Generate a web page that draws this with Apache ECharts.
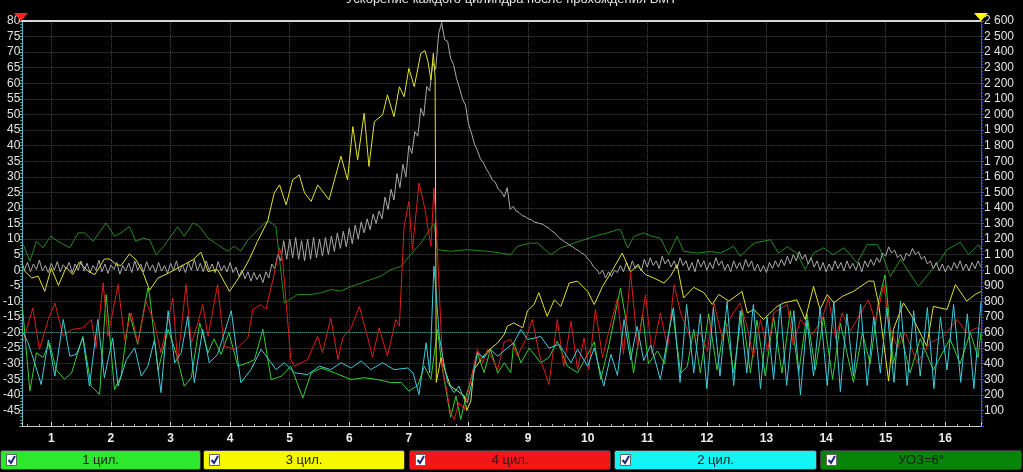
<!DOCTYPE html>
<html><head><meta charset="utf-8">
<script src="https://cdn.jsdelivr.net/npm/echarts@6/dist/echarts.min.js"></script>
<style>html,body{margin:0;padding:0;background:#000;}#c{width:1023px;height:472px;}</style>
</head><body><div id="c"></div>
<script>
const titleText = 'Ускорение каждого цилиндра после прохождения ВМТ';
const legendNames = ['1 цил.', '3 цил.', '4 цил.', '2 цил.', 'УОЗ=6°'];
const xTicks = [1,2,3,4,5,6,7,8,9,10,11,12,13,14,15,16];
const refLevel = -20;

// RPM (right axis), sampled every 0.05 from 0.5
const rpmStart = 0.5, rpmStep = 0.05;
const rpm = [
1060,1000,1050,990,1040,1005,1065,995,1030,985,1045,1000,1055,990,1035,1010,1050,985,1040,1000,
1060,995,1045,985,1030,1000,1065,990,1040,980,1035,1005,1050,975,1030,995,1045,985,1060,1000,
1040,990,1055,1000,1035,985,1050,995,1030,980,1045,1000,1060,990,1035,985,1050,1000,1070,995,
1045,990,1060,1000,1040,985,1055,995,1030,990,1050,985,1020,960,1000,945,990,930,985,940,
975,920,990,950,1040,1010,1100,1060,1190,1070,1200,1080,1210,1070,1190,1060,1200,1070,1210,1080,
1200,1090,1210,1100,1220,1120,1240,1140,1250,1150,1270,1170,1290,1200,1310,1240,1330,1260,1360,1300,
1380,1330,1470,1390,1520,1450,1620,1530,1680,1600,1800,1750,1890,1860,2040,1990,2180,2150,2330,2290,
2520,2590,2480,2470,2360,2320,2230,2170,2100,2060,1940,1880,1810,1770,1715,1690,1650,1620,1580,1565,
1520,1505,1470,1530,1390,1410,1380,1370,1350,1345,1330,1325,1310,1305,1300,1295,1280,1270,1250,1240,
1215,1200,1185,1175,1160,1150,1135,1125,1110,1100,1075,1055,1020,1005,975,1000,950,990,960,1000,
985,1030,990,1050,1000,1060,1010,1040,995,1070,1020,1080,1030,1060,1010,1090,1040,1070,1020,1060,
1010,1080,1030,1060,1000,1050,990,1070,1020,1060,1000,1050,1010,1080,1030,1060,1000,1040,990,1060,
1010,1050,1000,1070,1020,1060,995,1040,990,1030,985,1050,1010,1060,1020,1070,1030,1090,1040,1100,
1060,1120,1070,1100,1040,1080,1020,1060,1000,1050,990,1040,1000,1060,1010,1050,995,1060,1010,1045,
1000,1050,990,1060,1020,1070,1030,1080,1050,1110,1090,1150,1110,1130,1080,1100,1060,1110,1090,1140,
1100,1120,1070,1090,1040,1060,1010,1050,995,1040,990,1030,1000,1050,1010,1060,1000,1040,995,1050,1010,1060,1020
];

const uoz = [
[0.53,8.2],[0.64,2.9],[0.75,9.3],[0.86,7.2],[0.99,10.9],[1.11,9.3],[1.31,7.2],[1.45,12],[1.56,12],[1.7,9.3],
[1.92,15.2],[2.06,10.9],[2.17,12],[2.31,14],[2.42,9.3],[2.54,10.3],[2.65,9.8],[2.76,5],[2.89,7.7],[3.12,14],
[3.23,10.9],[3.38,15.2],[3.49,14],[3.63,10.3],[3.79,8.2],[3.96,6.1],[4.07,7.7],[4.18,6.1],[4.3,9.8],[4.58,15.2],
[4.66,15.7],[4.77,14],[4.91,-10.5],[5.13,-7.8],[5.36,-7.8],[5.53,-7.2],[5.69,-6.2],[5.86,-6.7],[6.03,-5.2],[6.2,-4.1],
[6.36,-3],[6.53,-1.9],[6.7,0.2],[6.87,1.3],[7.03,5],[7.2,8.7],[7.37,13.5],[7.42,15],[7.48,6.6],[7.7,6.1],
[7.98,6.6],[8.37,6],[8.71,5],[8.82,7.7],[9.04,8.7],[9.16,8.7],[9.38,5],[9.55,7.2],[9.77,8.7],[10.11,10.9],
[10.33,12],[10.5,13],[10.55,13],[10.67,7.2],[10.78,10.9],[10.94,12],[11.06,11],[11.22,10.3],[11.36,5],[11.5,10.9],
[11.61,6.1],[11.84,5.5],[12.06,6],[12.23,5.5],[12.45,7.7],[12.56,4.5],[12.79,8.7],[13.07,9.8],[13.2,5.5],[13.35,7.5],
[13.51,5.5],[13.65,0.2],[13.79,5.5],[13.96,7.2],[14.12,5],[14.3,7.2],[14.41,5],[14.52,2.3],[14.69,8.2],[14.86,8.2],
[14.91,6.6],[15.08,-2],[15.25,3.5],[15.55,-5.2],[15.92,3.5],[16.03,6.6],[16.25,9],[16.39,5],[16.56,8.2],[16.6,6.6]
];

const cyl1 = [
[0.52,-12.6],[0.64,-38.8],[0.75,-26.5],[0.86,-28],[0.97,-23.3],[1.08,-31.9],[1.22,-35],[1.34,-33],[1.53,-21.2],[1.67,-37.2],
[1.81,-39.9],[1.92,-7.8],[2.06,-38.3],[2.17,-34],[2.31,-13.7],[2.45,-23.8],[2.62,-5.7],[2.65,-8],[2.79,-32.2],[2.96,-19],
[3.1,-27],[3.23,-37.2],[3.35,-34.5],[3.49,-16.9],[3.63,-26.5],[3.73,-22],[3.85,-27],[3.98,-20],[4.13,-30.8],[4.3,-29.7],
[4.41,-28.7],[4.55,-19],[4.69,-35.1],[4.86,-34],[5.02,-30.8],[5.22,-41],[5.36,-33],[5.53,-31.4],[5.75,-32.9],[6.03,-35.1],
[6.25,-34.5],[6.48,-35.1],[6.7,-36.1],[6.87,-36],[7.0,-38.8],[7.15,-37],[7.26,-30.8],[7.37,-35],[7.48,-19],[7.55,-30],
[7.62,-38],[7.7,-47.2],[7.79,-40.4],[7.87,-47.9],[7.96,-40.4],[8.04,-35.1],[8.15,-26.5],[8.26,-32.9],[8.37,-25.4],[8.49,-33],
[8.6,-29.7],[8.71,-32.9],[8.76,-23.3],[8.88,-29.7],[9.02,-25],[9.21,-29.7],[9.35,-28],[9.49,-22.8],[9.66,-30.8],[9.83,-32.9],
[10.0,-27],[10.11,-23],[10.22,-35],[10.36,-23.8],[10.55,-5.7],[10.67,-19],[10.77,-33],[10.92,-14.2],[11.02,-30],[11.17,-25.9],
[11.29,-30],[11.42,-12.6],[11.56,-33],[11.67,-31],[11.78,-19],[11.89,-33],[12.03,-14],[12.17,-32],[12.31,-16],[12.45,-33],
[12.59,-12.6],[12.73,-33],[12.84,-16],[12.98,-34],[13.12,-15],[13.26,-33],[13.4,-13],[13.54,-33],[13.68,-14],[13.82,-32],
[13.96,-15],[14.11,-35],[14.24,-17],[14.46,-36],[14.61,-20],[14.74,-30],[14.88,-10],[14.99,-1.5],[15.13,-30],[15.25,-20],
[15.41,-33],[15.58,-22],[15.8,-32],[16.08,-22],[16.25,-30],[16.42,-20],[16.55,-28],[16.6,-20]
];

const cyl3 = [
[0.53,0.2],[0.67,-2.5],[0.78,-1.9],[0.89,-6.8],[1.0,0.7],[1.12,-4.9],[1.25,1.0],[1.36,-1.4],[1.47,2.6],[1.62,-0.4],
[1.73,-1.4],[1.89,3.6],[1.98,3.6],[2.09,1.8],[2.17,1.5],[2.31,5.2],[2.42,3.4],[2.54,-0.8],[2.65,-6.4],[2.79,-2.5],
[2.98,-0.8],[3.18,1.3],[3.38,3.4],[3.51,5.8],[3.63,-0.4],[3.79,0.2],[3.99,-6.8],[4.18,-1.4],[4.32,3.4],[4.46,9.3],
[4.63,15.7],[4.74,24.8],[4.83,27.4],[4.94,21],[5.05,29],[5.16,30.6],[5.25,24.8],[5.36,22.1],[5.47,27.4],[5.66,22.6],
[5.86,36.6],[5.97,29],[6.06,46.1],[6.14,35.4],[6.25,50.4],[6.33,33.3],[6.42,47.7],[6.56,49.9],[6.64,56.3],[6.75,49.3],
[6.84,58.9],[6.92,55.7],[7.0,64.8],[7.09,58.9],[7.2,69.6],[7.27,70.5],[7.32,67],[7.37,61.1],[7.41,69.6],[7.44,62],
[7.46,-36],[7.54,-28],[7.62,-33],[7.7,-37.2],[7.82,-38.8],[7.93,-40.4],[7.97,-45],[8.04,-42],[8.09,-31.9],[8.21,-28.7],
[8.32,-26],[8.49,-23.3],[8.6,-20.6],[8.65,-18],[8.76,-16.9],[8.91,-18.5],[8.99,-13],[9.1,-11],[9.18,-7.2],[9.32,-14.8],
[9.44,-9.5],[9.55,-11.6],[9.69,-4.1],[9.83,-3.5],[10.0,-6.8],[10.11,-11],[10.25,-5.2],[10.39,-0.8],[10.58,5.5],[10.72,-0.5],
[10.83,1.5],[10.97,-1.4],[11.11,-2.5],[11.28,-4.1],[11.39,-1.9],[11.5,1.8],[11.61,-8.9],[11.78,-5.5],[11.95,-7.2],[12.09,-11],
[12.2,-7.8],[12.37,-9.9],[12.59,-6.8],[12.68,-13.7],[12.79,-12.6],[12.95,-15.8],[13.18,-11.6],[13.29,-10.5],[13.51,-9.5],[13.65,-15.8],
[13.79,-5.2],[13.9,-12.6],[14.02,-7.8],[14.13,-10.5],[14.27,-8.4],[14.46,-6.8],[14.71,-3.5],[14.8,-3.5],[14.88,-10.5],[15.05,-35.6],
[15.13,-19],[15.3,-10.5],[15.44,-14.8],[15.69,-24.4],[15.8,-11.6],[16.03,-12.6],[16.17,-4.6],[16.36,-9.9],[16.5,-7.8],[16.6,-6.8]
];

const cyl4 = [
[0.52,-23.3],[0.69,-12.1],[0.8,-25.4],[0.95,-15.8],[1.06,-10.5],[1.2,-21.2],[1.34,-19],[1.53,-18.5],[1.67,-15.8],[1.75,-24.9],
[1.87,-4.1],[1.95,-21.2],[2.12,-4.6],[2.23,-22.4],[2.34,-13.7],[2.45,-23.3],[2.59,-10],[2.73,-16.9],[2.84,-26.5],[3.04,-8.9],
[3.12,-29.7],[3.26,-4.6],[3.35,-23.3],[3.46,-16.9],[3.54,-11],[3.63,-21.2],[3.79,-4.6],[3.9,-24.4],[4.1,-25.4],[4.3,-21.7],
[4.38,-12.6],[4.52,-11],[4.6,-12.6],[4.72,-2.9],[4.83,7.2],[4.88,3.4],[5.02,-28.7],[5.08,-30.8],[5.3,-28.7],[5.47,-21.2],
[5.55,-26.5],[5.69,-15.3],[5.81,-28.7],[5.89,-21.7],[6.03,-18.5],[6.17,-11.6],[6.31,-21.7],[6.39,-27.9],[6.5,-18.5],[6.64,-27.6],
[6.78,-15.8],[6.84,-18],[6.92,14.1],[7.0,22.1],[7.06,6.6],[7.17,28],[7.26,20.5],[7.37,7.7],[7.42,26.4],[7.47,10],
[7.57,-31.9],[7.7,-45.7],[7.76,-47.9],[7.84,-42.5],[7.93,-44.7],[8.04,-35.1],[8.15,-25.4],[8.24,-29.7],[8.32,-25.4],[8.49,-31.9],
[8.6,-23],[8.71,-22.2],[8.82,-27.6],[8.96,-22.2],[9.07,-15.8],[9.2,-28],[9.35,-36.7],[9.49,-15.8],[9.6,-30.8],[9.72,-16.4],
[9.83,-31.9],[9.94,-21.7],[10.02,-31.9],[10.13,-12.6],[10.25,-28],[10.35,-20],[10.5,-9],[10.6,-27],[10.72,-0.8],[10.84,-25],
[10.97,-7.8],[11.08,-27],[11.22,-13.7],[11.34,-25],[11.45,-4.6],[11.56,-13.7],[11.73,-22],[11.89,-20.1],[12.01,-26],[12.12,-10.5],
[12.26,-22],[12.4,-15],[12.56,-10.5],[12.68,-18.5],[12.78,-28],[12.9,-15.8],[13.02,-26],[13.12,-13.7],[13.35,-11],[13.45,-24],
[13.57,-15.8],[13.77,-20.6],[13.93,-15.8],[14.04,-8.9],[14.16,-22],[14.27,-13.7],[14.41,-19.5],[14.58,-13.7],[14.71,-9.5],[14.83,-16.4],
[14.97,-4.6],[15.06,-18],[15.2,-25],[15.33,-20],[15.53,-29.7],[15.75,-23.3],[15.97,-21.2],[16.2,-15.8],[16.36,-20.1],[16.53,-18.5],[16.6,-19]
];

const cyl2 = [
[0.53,-20.1],[0.61,-23.3],[0.72,-29.7],[0.83,-36.7],[0.95,-22.4],[1.06,-34],[1.2,-15.8],[1.31,-27.6],[1.42,-27],[1.53,-21.7],
[1.64,-37.2],[1.78,-15.8],[1.89,-34.5],[2.03,-21.7],[2.12,-37.2],[2.26,-28.7],[2.4,-24.9],[2.51,-34],[2.62,-30.8],[2.73,-22.4],
[2.84,-39.3],[2.96,-13],[3.07,-29.7],[3.18,-26.5],[3.29,-14.8],[3.4,-36.1],[3.54,-19],[3.65,-29.7],[3.79,-27],[4.02,-13],
[4.18,-36.1],[4.35,-31.9],[4.52,-25.4],[4.69,-29.7],[4.77,-31.9],[4.91,-29.7],[5.08,-32.9],[5.3,-33.5],[5.5,-30.8],[5.69,-31.9],
[5.86,-29.7],[6.03,-31.4],[6.2,-29.1],[6.36,-31.9],[6.56,-29.7],[6.75,-31.9],[6.98,-31.4],[7.07,-33],[7.17,-39.9],[7.29,-23.3],
[7.35,-33],[7.42,1.3],[7.45,-5.2],[7.51,-21.2],[7.57,-28],[7.65,-36],[7.76,-39.3],[7.84,-37.2],[7.93,-41.5],[7.98,-42.5],
[8.07,-35],[8.15,-26.5],[8.26,-28],[8.37,-25.4],[8.49,-27.6],[8.65,-25],[8.76,-23.3],[8.88,-19],[8.99,-22.2],[9.13,-21.7],
[9.21,-21.2],[9.35,-25],[9.52,-23.8],[9.72,-29.7],[9.83,-25.4],[10.0,-30.8],[10.11,-25],[10.27,-37.2],[10.39,-27],[10.5,-33.8],
[10.61,-15.8],[10.72,-28.7],[10.83,-18],[10.94,-29],[11.06,-24],[11.22,-35.1],[11.34,-22],[11.44,-12],[11.55,-36],[11.66,-11],
[11.78,-33],[11.89,-14],[12.0,-38],[12.11,-12],[12.22,-34],[12.34,-10],[12.45,-37],[12.56,-13],[12.67,-33],[12.78,-11],
[12.9,-38],[13.01,-15],[13.12,-35],[13.23,-11],[13.34,-37],[13.46,-13],[13.57,-40],[13.68,-16],[13.79,-34],[13.9,-12],
[14.02,-37],[14.13,-10],[14.24,-39],[14.35,-14],[14.46,-34],[14.58,-11],[14.69,-37],[14.8,-15],[14.91,-33],[15.02,-12],
[15.14,-36],[15.25,-10],[15.36,-37],[15.47,-13],[15.58,-34],[15.7,-12],[15.81,-38],[15.92,-15],[16.03,-32],[16.14,-11],
[16.26,-36],[16.37,-14],[16.48,-38],[16.6,-10]
];

const lineColors = {c1:'#34d034', c3:'#e2e22a', c4:'#dc1c1c', c2:'#3cccdc', uoz:'#228b22', rpm:'#a9a9a9'};
const boxColors = ['#2ee82e','#f7f700','#f21616','#14f4f4','#088408'];

const rpmData = rpm.map((v,i)=>[+(rpmStart+i*rpmStep).toFixed(2), v]);

const font = 'Liberation Sans, Arial, sans-serif';
function thousands(v){ return v>=1000 ? Math.floor(v/1000)+' '+String(v%1000).padStart(3,'0') : String(v); }

const chart = echarts.init(document.getElementById('c'), null, {renderer:'canvas'});

// legend graphics
const boxes = [[0,201],[203,405],[409,611],[614,817],[820,1022]];
const legendGraphics = [];
boxes.forEach((b,i)=>{
  legendGraphics.push({type:'rect', shape:{x:b[0]+0.5,y:450.5,width:b[1]-b[0]-1,height:19,r:2}, style:{fill:boxColors[i], stroke:'#3a3a3a', lineWidth:1}, z:100});
  legendGraphics.push({type:'rect', shape:{x:b[0]+6.5,y:454.5,width:10,height:11}, style:{fill:'#fff', stroke:'#666', lineWidth:1}, z:101});
  legendGraphics.push({type:'polyline', shape:{points:[[b[0]+8.5,460],[b[0]+11,463],[b[0]+15,456]]}, style:{stroke:'#1b2a80', lineWidth:2, fill:null}, z:102});
  legendGraphics.push({type:'text', x:(b[0]+b[1])/2, y:460, style:{text:legendNames[i], fill:'#1c1c1c', font:'13px '+font, textAlign:'center', textVerticalAlign:'middle'}, z:102});
});

const option = {
  backgroundColor:'#000',
  animation:false,
  title:{text:titleText, left:'center', top:-12, textStyle:{color:'#e4e4e4', fontSize:13, fontWeight:'normal', fontFamily:font}},
  grid:{left:21, right:42, top:21, bottom:46, containLabel:false},
  xAxis:{
    type:'value', min:0.514, max:16.6, splitNumber:16,
    axisLine:{show:true, onZero:false, lineStyle:{color:'#c8c8c8', width:1}},
    axisTick:{show:true, inside:true, length:4, lineStyle:{color:'#c8c8c8'}},
    minorTick:{show:true, splitNumber:5, length:2, lineStyle:{color:'#aaaaaa'}},
    axisLabel:{color:'#eeeeee', fontSize:12, fontWeight:'bold', fontFamily:font, margin:7, showMinLabel:false, showMaxLabel:false,
      formatter:(v)=> xTicks.includes(v) ? String(v) : ''},
    splitLine:{show:true, lineStyle:{color:'#444', type:'dotted', width:1}}
  },
  yAxis:[{
    type:'value', min:-50, max:80, interval:5, position:'left',
    axisLine:{show:true, onZero:false, lineStyle:{color:'#5ab2c2', width:1}},
    axisTick:{show:true, length:3, lineStyle:{color:'#5ab2c2'}},
    minorTick:{show:true, splitNumber:5, length:2, lineStyle:{color:'#5ab2c2'}},
    axisLabel:{color:'#e2e2e2', fontSize:12, fontFamily:font, margin:2, showMinLabel:false},
    splitLine:{show:true, lineStyle:{color:'#4a4a4a', type:'dotted', width:1}}
  },{
    type:'value', min:0, max:2600, interval:100, position:'right',
    axisLine:{show:true, onZero:false, lineStyle:{color:'#4a4ac8', width:1}},
    axisTick:{show:true, length:3, lineStyle:{color:'#4a4ac8'}},
    minorTick:{show:true, splitNumber:5, length:2, lineStyle:{color:'#4a4ac8'}},
    axisLabel:{color:'#e2e2e2', fontSize:12, fontFamily:font, margin:3, showMinLabel:false, formatter:thousands},
    splitLine:{show:false}
  }],
  series:[
    {name:legendNames[4], type:'line', yAxisIndex:0, data:uoz, showSymbol:false, symbol:'none', lineStyle:{color:lineColors.uoz, width:1}, z:2},
    {name:'RPM', type:'line', yAxisIndex:1, data:rpmData, showSymbol:false, symbol:'none', lineStyle:{color:lineColors.rpm, width:1}, z:3},
    {name:legendNames[0], type:'line', yAxisIndex:0, data:cyl1, showSymbol:false, symbol:'none', lineStyle:{color:lineColors.c1, width:1}, z:4},
    {name:legendNames[1], type:'line', yAxisIndex:0, data:cyl3, showSymbol:false, symbol:'none', lineStyle:{color:lineColors.c3, width:1}, z:5},
    {name:legendNames[2], type:'line', yAxisIndex:0, data:cyl4, showSymbol:false, symbol:'none', lineStyle:{color:lineColors.c4, width:1}, z:6},
    {name:legendNames[3], type:'line', yAxisIndex:0, data:cyl2, showSymbol:false, symbol:'none', lineStyle:{color:lineColors.c2, width:1}, z:7,
      markLine:{silent:true, symbol:'none', label:{show:false}, lineStyle:{color:'#36a9b4', type:'dotted', width:1}, data:[{yAxis:refLevel}]}}
  ],
  graphic:[
    {type:'line', shape:{x1:21,y1:21,x2:981,y2:21}, style:{stroke:'#d6d6d6', lineWidth:2}, z:100},
    {type:'polygon', shape:{points:[[14,13],[28,13],[21,21]]}, style:{fill:'#ff2020'}, z:101},
    {type:'polygon', shape:{points:[[974,13],[988,13],[981,21]]}, style:{fill:'#ffff00'}, z:101}
  ].concat(legendGraphics)
};
chart.setOption(option);
</script>
</body></html>
